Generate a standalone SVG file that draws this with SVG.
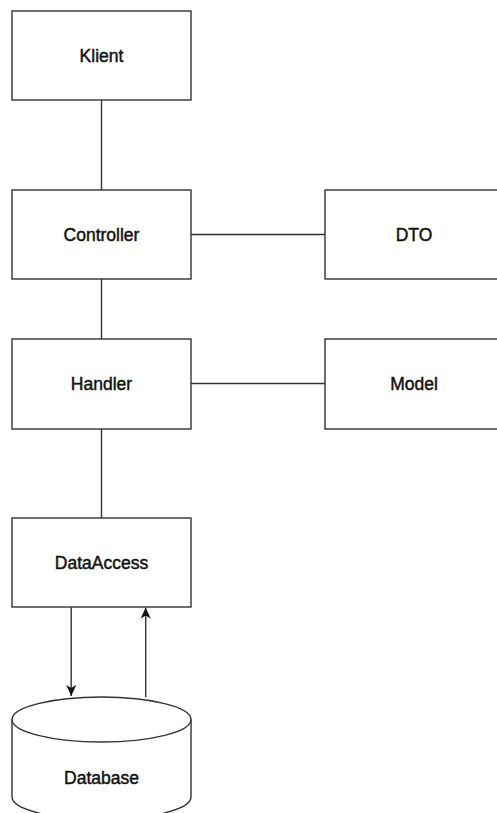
<svg xmlns="http://www.w3.org/2000/svg" width="497" height="813" viewBox="0 0 497 813">
<style>
.box{fill:#fff;stroke:#333;stroke-width:1.4}
.ln{fill:none;stroke:#333;stroke-width:1.4}
.lbl{font-family:"Liberation Sans",Arial,sans-serif;font-size:17.5px;fill:#111;text-anchor:middle;stroke:#111;stroke-width:0.45}
</style>
<defs>
<marker id="arr" viewBox="0 0 11 10" refX="11" refY="5" markerWidth="11" markerHeight="10" markerUnits="userSpaceOnUse" orient="auto">
<path d="M0,0 L11,5 L0,10 L3,5 z" fill="#111"/>
</marker>
</defs>
<rect width="497" height="813" fill="#fff"/>
<g id="connectors">
<line class="ln" x1="101.5" y1="100" x2="101.5" y2="190"/>
<line class="ln" x1="101.5" y1="279" x2="101.5" y2="339"/>
<line class="ln" x1="101.5" y1="429" x2="101.5" y2="518"/>
<line class="ln" x1="191" y1="234.5" x2="325" y2="234.5"/>
<line class="ln" x1="191" y1="383.5" x2="325" y2="383.5"/>
<line class="ln" x1="71.2" y1="607" x2="71.2" y2="696" marker-end="url(#arr)"/>
<line class="ln" x1="145.7" y1="697" x2="145.7" y2="607.5" marker-end="url(#arr)"/>
</g>
<g id="klient"><rect class="box" x="12" y="11" width="179" height="89"/><text class="lbl" x="101.5" y="62">Klient</text></g>
<g id="controller"><rect class="box" x="12" y="190" width="179" height="89"/><text class="lbl" x="101.5" y="241">Controller</text></g>
<g id="dto"><rect class="box" x="325" y="190" width="179" height="89"/><text class="lbl" x="414" y="241">DTO</text></g>
<g id="handler"><rect class="box" x="12" y="339" width="179" height="90"/><text class="lbl" x="101.5" y="390">Handler</text></g>
<g id="model"><rect class="box" x="325" y="339" width="179" height="90"/><text class="lbl" x="414" y="390">Model</text></g>
<g id="dataaccess"><rect class="box" x="12" y="518" width="179" height="89"/><text class="lbl" x="101.5" y="569">DataAccess</text></g>
<g id="database">
<path class="box" d="M12,719.5 A89.5,22.5 0 0 1 191,719.5 V797 A89.5,22.5 0 0 1 12,797 Z"/>
<path class="ln" d="M12,719.5 A89.5,22.5 0 0 0 191,719.5"/>
<text class="lbl" x="101.5" y="784">Database</text>
</g>
</svg>
